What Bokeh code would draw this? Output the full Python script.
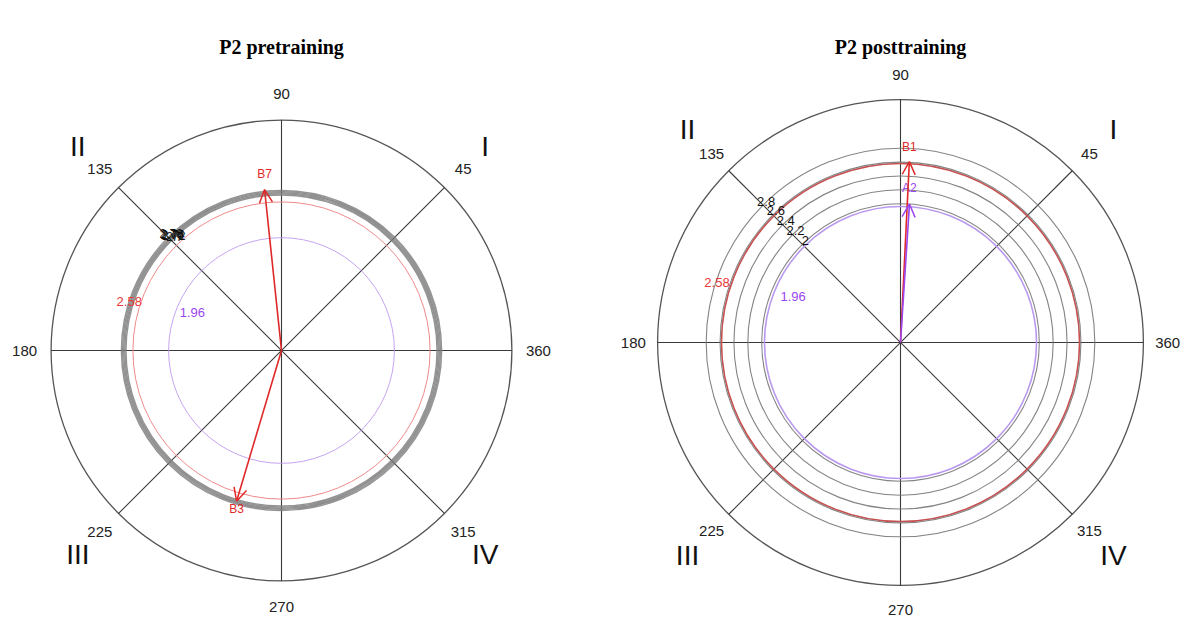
import numpy as np
from bokeh.plotting import figure
from bokeh.layouts import row
from bokeh.models import Arrow, OpenHead
from bokeh.core.properties import value
from bokeh.embed import file_html
from bokeh.resources import INLINE

# ---------------- data ----------------
spoke_angles = [0, 45, 90, 135]
angle_ticks = [0, 45, 90, 135, 180, 225, 270, 315]
angle_tick_labels = ["360", "45", "90", "135", "180", "225", "270", "315"]
quadrant_angles = [45, 135, 225, 315]
quadrant_labels = ["I", "II", "III", "IV"]
crit_values = [1.96, 2.58]
crit_labels = ["1.96", "2.58"]

pre_title = "P2 pretraining"
pre_outer = 4.0
pre_ring_values = [2.70, 2.72, 2.74, 2.76, 2.78]
pre_ring_labels = ["2.7", "2.72", "2.74", "2.76", "2.78"]
pre_vec_names = ["B7", "B3"]
pre_vec_angles = [96.0, 253.4]
pre_vec_lengths = [2.81, 2.73]

post_title = "P2 posttraining"
post_outer = 3.5
post_ring_values = [2.0, 2.2, 2.4, 2.6, 2.8]
post_ring_labels = ["2", "2.2", "2.4", "2.6", "2.8"]
post_vec_names = ["B1", "A2"]
post_vec_angles = [87.2, 86.3]
post_vec_lengths = [2.61, 2.0]

# ---------------- style ----------------
SANS = value("Liberation Sans")
SERIF = value("Liberation Serif")
RED = "#e02828"
PURPLE = "#9b45f0"


def pol(r, a):
    a = np.radians(np.asarray(a, dtype=float))
    r = np.asarray(r, dtype=float)
    return r * np.cos(a), r * np.sin(a)


def panel(title, outer, rings, ring_labels, names, angs, lens, vec_colors,
          label_offsets, scale, width, height, cx, cy, title_y, ring_style,
          crit_style, tick_r=1.115, quad_r=1.25):
    x0 = -cx / scale
    x1 = (width - cx) / scale
    y1 = cy / scale
    y0 = -(height - cy) / scale
    p = figure(width=width, height=height, x_range=(x0, x1), y_range=(y0, y1),
               output_backend="svg", toolbar_location=None, min_border=0,
               x_axis_location=None, y_axis_location=None)
    p.grid.visible = False
    p.outline_line_color = None
    p.background_fill_color = "white"
    p.border_fill_color = "white"

    # outer circle and spokes
    p.circle(x=0, y=0, radius=outer, fill_color=None, line_color="#555555",
             line_width=1.3)
    sx, sy = pol(outer, spoke_angles)
    p.segment(x0=-sx, y0=-sy, x1=sx, y1=sy, line_color="#3a3a3a",
              line_width=1.1)

    # critical circles
    p.circle(x=0, y=0, radius=crit_values[0], fill_color=None,
             line_color=crit_style["purple"], line_width=crit_style["w"])
    p.circle(x=0, y=0, radius=crit_values[1], fill_color=None,
             line_color=crit_style["red"], line_width=crit_style["w"])

    # rings of vector lengths
    p.circle(x=0, y=0, radius=rings, fill_color=None,
             line_color=ring_style["color"], line_width=ring_style["w"],
             line_alpha=ring_style["alpha"])
    rx, ry = pol(rings, [135] * len(rings))
    p.text(x=rx, y=ry, text=ring_labels, text_font=SANS,
           text_font_size=ring_style["fs"], text_color="#111111",
           text_align="center", text_baseline="middle",
           x_offset=3, y_offset=-4)

    # critical labels
    cxl, cyl = pol([1.68, 2.78], [157, 162])
    p.text(x=cxl, y=cyl, text=crit_labels, text_font=SANS,
           text_font_size="13px", text_color=["#9b45f0", "#e83838"],
           text_align="center", text_baseline="middle")

    # angle tick labels
    tx, ty = pol(outer * tick_r, angle_ticks)
    p.text(x=tx, y=ty, text=angle_tick_labels, text_font=SANS,
           text_font_size="15px", text_color="#222222", text_align="center",
           text_baseline="middle")
    # quadrant labels
    qx, qy = pol(outer * quad_r, quadrant_angles)
    p.text(x=qx, y=qy, text=quadrant_labels, text_font=SANS,
           text_font_size="28px", text_color="#111111", text_align="center",
           text_baseline="middle")

    # vectors
    vx, vy = pol(lens, angs)
    for i in range(len(names)):
        p.add_layout(Arrow(end=OpenHead(size=13, line_color=vec_colors[i],
                                        line_width=1.5),
                           x_start=0, y_start=0, x_end=float(vx[i]),
                           y_end=float(vy[i]), line_color=vec_colors[i],
                           line_width=1.6))
    p.text(x=vx, y=vy, text=names, text_font=SANS, text_font_size="12px",
           text_color=vec_colors, text_align="center", text_baseline="middle",
           y_offset=label_offsets)

    # title
    p.text(x=[0], y=[(cy - title_y) / scale], text=[title], text_font=SERIF,
           text_font_size="20px", text_font_style="bold", text_color="black",
           text_align="center", text_baseline="middle")
    return p


p1 = panel(pre_title, pre_outer, pre_ring_values, pre_ring_labels,
           pre_vec_names, pre_vec_angles, pre_vec_lengths, [RED, RED],
           [-16, 8], scale=57.6, width=598, height=620, cx=281, cy=350,
           title_y=46,
           ring_style={"color": "#7a7a7a", "w": 1.4, "alpha": 0.8,
                       "fs": "12px"},
           crit_style={"purple": "#c7a4f2", "red": "#f08a8a", "w": 1.0})
p2 = panel(post_title, post_outer, post_ring_values, post_ring_labels,
           post_vec_names, post_vec_angles, post_vec_lengths, [RED, PURPLE],
           [-15, -16], scale=69.4, width=589, height=620, cx=302, cy=342,
           title_y=46, tick_r=1.1, quad_r=1.24,
           ring_style={"color": "#777777", "w": 1.1, "alpha": 0.9,
                       "fs": "13px"},
           crit_style={"purple": "#b999f0", "red": "#c85050", "w": 1.6})

layout = row(p1, p2, spacing=0)
open("out.html", "w").write(file_html(layout, INLINE))
